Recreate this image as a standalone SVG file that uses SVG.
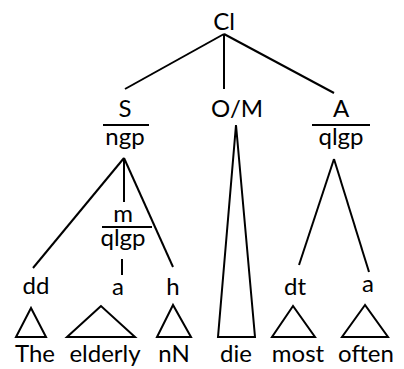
<svg xmlns="http://www.w3.org/2000/svg" width="404" height="369" viewBox="0 0 404 369">
  <style>
    text { font-family: Lato, "Open Sans", "Liberation Sans", sans-serif; font-size: 24px; fill: #000; text-anchor: middle; }
    .ln { stroke: #000; stroke-width: 2; fill: none; stroke-linejoin: miter; }
  </style>
  <rect width="404" height="369" fill="#fff"/>

  <g id="connectors">
    <!-- Cl to its three constituents -->
    <line class="ln" x1="224" y1="34" x2="125" y2="89"/>
    <line class="ln" x1="224" y1="34" x2="224" y2="89"/>
    <line class="ln" x1="224" y1="34" x2="334" y2="93"/>
    <!-- ngp branches -->
    <line class="ln" x1="124" y1="158" x2="33" y2="268"/>
    <line class="ln" x1="124" y1="158" x2="124" y2="202"/>
    <line class="ln" x1="124" y1="158" x2="173" y2="267"/>
    <!-- m qlgp to a -->
    <line class="ln" x1="122" y1="259" x2="122" y2="275"/>
    <!-- qlgp branches -->
    <line class="ln" x1="334" y1="159" x2="299" y2="265"/>
    <line class="ln" x1="334" y1="159" x2="369" y2="272"/>
  </g>

  <g id="cl"><text x="224" y="30">Cl</text></g>

  <g id="s">
    <text x="125" y="117">S</text>
    <line class="ln" x1="103" y1="125" x2="149" y2="125"/>
    <text x="125" y="145">ngp</text>
  </g>

  <g id="om">
    <text x="237" y="117">O/M</text>
    <polygon class="ln" points="236,125 218,337 255,337"/>
  </g>

  <g id="a-top">
    <text x="341" y="117">A</text>
    <line class="ln" x1="312" y1="125" x2="370" y2="125"/>
    <text x="341" y="145">qlgp</text>
  </g>

  <g id="m">
    <text x="123" y="222">m</text>
    <line class="ln" x1="102" y1="227" x2="152" y2="227"/>
    <text x="123" y="246">qlgp</text>
  </g>

  <g id="dd"><text x="36" y="294">dd</text><polygon class="ln" points="31,308 16,337 46,337"/></g>
  <g id="a-mod"><text x="118" y="295">a</text><polygon class="ln" points="101,306 67,337 135,337"/></g>
  <g id="h"><text x="173" y="295">h</text><polygon class="ln" points="173,305 157,337 191,337"/></g>
  <g id="dt"><text x="295" y="295">dt</text><polygon class="ln" points="293,306 272,337 315,337"/></g>
  <g id="a-adv"><text x="368" y="292">a</text><polygon class="ln" points="365,305 342,337 388,337"/></g>

  <g id="words">
    <text x="35" y="362">The</text>
    <text x="105" y="362">elderly</text>
    <text x="174" y="362">nN</text>
    <text x="236" y="362">die</text>
    <text x="298" y="362">most</text>
    <text x="366" y="362">often</text>
  </g>
</svg>
